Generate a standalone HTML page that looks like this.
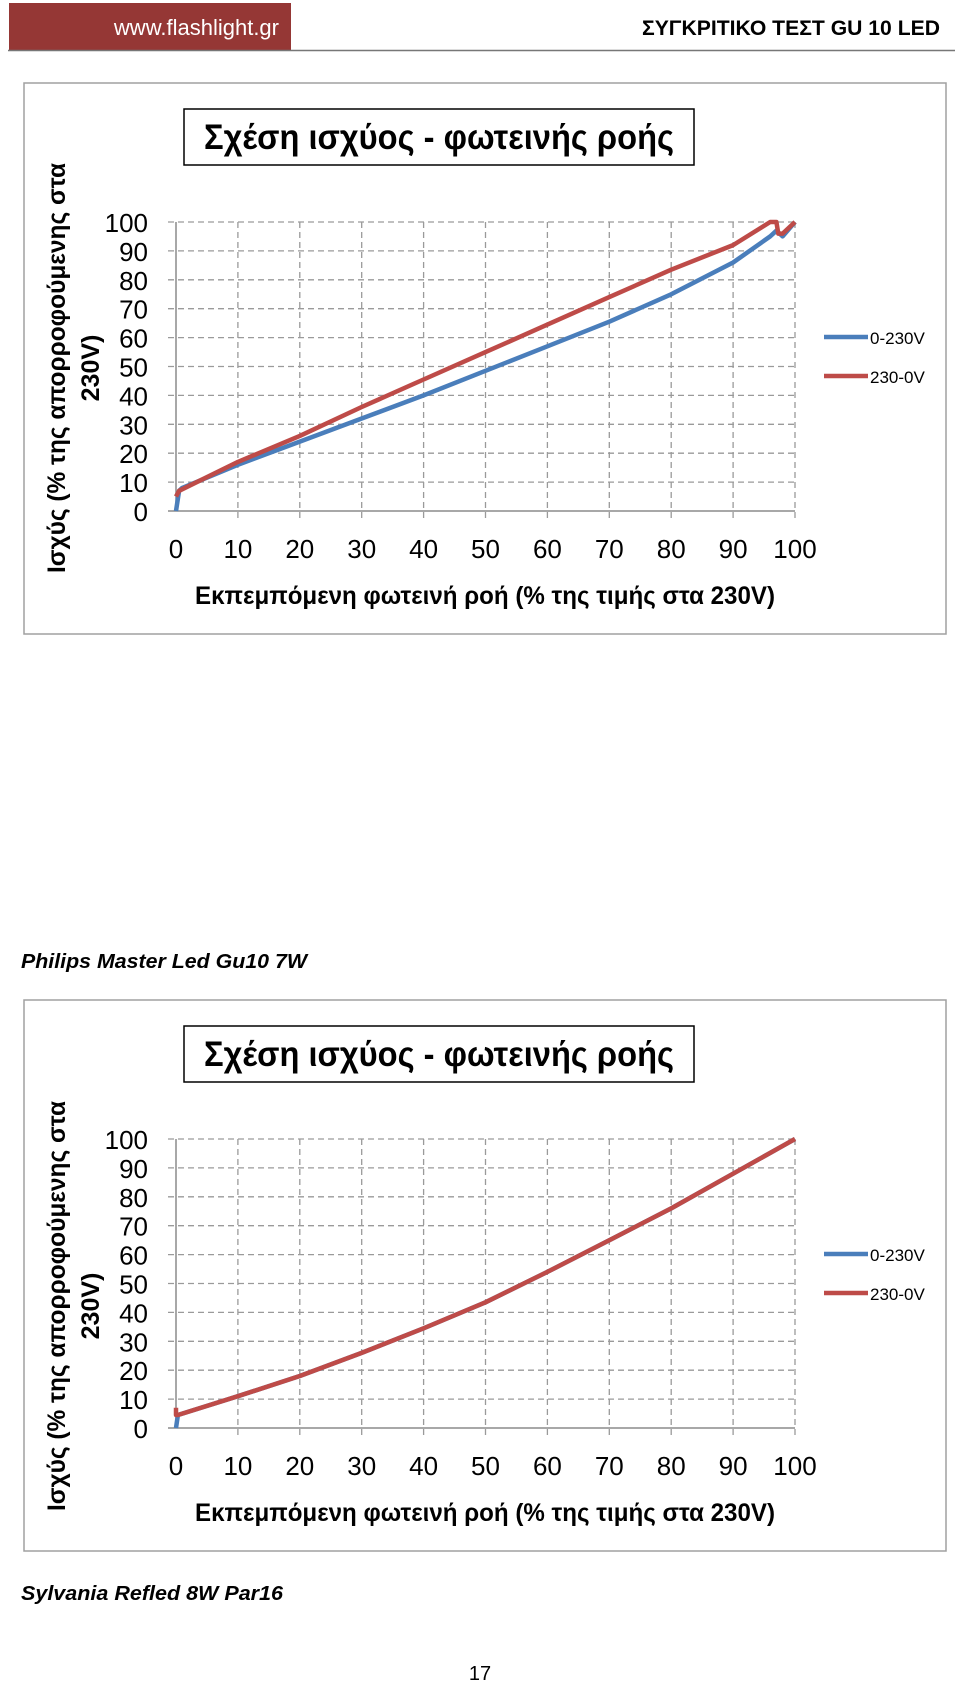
<!DOCTYPE html>
<html><head><meta charset="utf-8"><style>
html,body{margin:0;padding:0;background:#fff;}
svg{display:block;font-family:"Liberation Sans",sans-serif;}
</style></head><body>
<svg id="page" width="960" height="1681" viewBox="0 0 960 1681">
  <rect x="9" y="3" width="282" height="47" fill="#953735"/>
  <text x="279" y="35" text-anchor="end" fill="#fff" font-size="22">www.flashlight.gr</text>
  <text x="940" y="35" text-anchor="end" fill="#000" font-size="21" font-weight="bold" textLength="298" lengthAdjust="spacingAndGlyphs">ΣΥΓΚΡΙΤΙΚΟ ΤΕΣΤ GU 10 LED</text>
  <line x1="8" y1="50.5" x2="955" y2="50.5" stroke="#777" stroke-width="1.5"/>
  <g id="chart1"></g>
  <text x="21" y="968" font-size="20" font-style="italic" font-weight="bold" textLength="286" lengthAdjust="spacingAndGlyphs">Philips Master Led Gu10 7W</text>
  <g id="chart2"></g>
  <text x="21" y="1600" font-size="20" font-style="italic" font-weight="bold" textLength="262" lengthAdjust="spacingAndGlyphs">Sylvania Refled 8W Par16</text>
  <text x="480" y="1680" text-anchor="middle" font-size="20">17</text>
</svg>
<script>
const ticks = [0,10,20,30,40,50,60,70,80,90,100];
const seriesNames = ["0-230V","230-0V"];
const c1BlueX = [0,0.5,1,10,20,30,40,50,60,70,80,90,96,97,98,100];
const c1BlueY = [0,7,8,16,24,32,40,48.5,57,65.5,75,86,95,97,95,100];
const c1RedX = [0,0.5,10,20,30,40,50,60,70,80,90,96,97,97.3,98,100];
const c1RedY = [5,7,17,26,36,45.5,55,64.5,74,83.5,92,100,100,96,96,100];
const c2BlueX = [0,0.3,10,20,30,40,50,60,70,80,90,100];
const c2BlueY = [0,4.5,11,18,26,34.5,43.5,54,65,76,88,100];
const c2RedX = [0,0,0.3,10,20,30,40,50,60,70,80,90,100];
const c2RedY = [7,4.5,4.5,11,18,26,34.5,43.5,54,65,76,88,100];
const NS="http://www.w3.org/2000/svg";
function mk(parent,tag,attrs){const e=document.createElementNS(NS,tag);for(const k in attrs)e.setAttribute(k,attrs[k]);parent.appendChild(e);return e;}
function drawChart(g,top,series,ytOff){
  const fr={x:24,y:top,w:922,h:551};
  const x0=176,x1=795,yTop=top+139,yBot=top+428;
  const sx=v=>x0+(x1-x0)*v/100, sy=v=>yBot-(yBot-yTop)*v/100;
  const frame=mk(g,'rect',{x:fr.x,y:fr.y,width:fr.w,height:fr.h,fill:'#fff',stroke:'#a0a0a0','stroke-width':1.5});
  
  
  const tb=mk(g,'rect',{x:184,y:top+26,width:510,height:56,fill:'#fff',stroke:'#000','stroke-width':1.5});
  
  
  const tt=mk(g,'text',{x:439,y:top+66,'text-anchor':'middle','font-size':35,'font-weight':'bold',textLength:470,lengthAdjust:'spacingAndGlyphs'});
  tt.textContent='Σχέση ισχύος - φωτεινής ροής';
  
  
  ticks.forEach(t=>{
    if(t>0){const l=mk(g,'line',{x1:x0-8,x2:x1,y1:sy(t),y2:sy(t),stroke:'#9a9a9a','stroke-width':1.3,'stroke-dasharray':'6,4'});
      
      
      const v=mk(g,'line',{x1:sx(t),x2:sx(t),y1:yTop,y2:yBot+8,stroke:'#9a9a9a','stroke-width':1.3,'stroke-dasharray':'6,4'});
      
      }
    const yl=mk(g,'text',{x:148,y:sy(t)+10,'text-anchor':'end','font-size':26});
    yl.textContent=t;
    
    
    const xl=mk(g,'text',{x:sx(t),y:yBot+47,'text-anchor':'middle','font-size':26});
    xl.textContent=t;
    
    
  });
  const ax=mk(g,'line',{x1:x0,x2:x0,y1:yTop,y2:yBot,stroke:'#8c8c8c','stroke-width':1.5});
  
  
  const axx=mk(g,'line',{x1:x0-8,x2:x1,y1:yBot,y2:yBot,stroke:'#8c8c8c','stroke-width':1.5});
  
  
  const xt=mk(g,'text',{x:485,y:yBot+93,'text-anchor':'middle','font-size':25,'font-weight':'bold',textLength:580,lengthAdjust:'spacingAndGlyphs'});
  xt.textContent='Εκπεμπόμενη φωτεινή ροή (% της τιμής στα 230V)';
  
  
  const cy=top+285+ytOff;
  const yt=mk(g,'text',{x:0,y:0,'text-anchor':'middle','font-size':25,'font-weight':'bold',transform:`translate(65,${cy}) rotate(-90)`,textLength:410,lengthAdjust:'spacingAndGlyphs'});
  yt.textContent='Ισχύς (% της απορροφούμενης στα';
  
  
  const yt2=mk(g,'text',{x:0,y:0,'text-anchor':'middle','font-size':25,'font-weight':'bold',transform:`translate(99,${cy}) rotate(-90)`});
  yt2.textContent='230V)';
  
  
  const colors=['#4a7ebb','#be4b48'];
  series.forEach((s,i)=>{
    const d=s.x.map((v,j)=>(j?'L':'M')+sx(v).toFixed(1)+','+sy(s.y[j]).toFixed(1)).join(' ');
    const p=mk(g,'path',{d:d,fill:'none',stroke:colors[i],'stroke-width':4.5,'stroke-linejoin':'round'});
    
    
    const ly=top+254+i*39;
    const ll=mk(g,'line',{x1:824,x2:868,y1:ly,y2:ly,stroke:colors[i],'stroke-width':4.5});
    
    
    const lt=mk(g,'text',{x:870,y:ly+7,'font-size':17});
    lt.textContent=seriesNames[i];
    
    
  });
}
drawChart(document.getElementById('chart1'),83,[{x:c1BlueX,y:c1BlueY},{x:c1RedX,y:c1RedY}],0);
drawChart(document.getElementById('chart2'),1000,[{x:c2BlueX,y:c2BlueY},{x:c2RedX,y:c2RedY}],21);
</script>
</body></html>
